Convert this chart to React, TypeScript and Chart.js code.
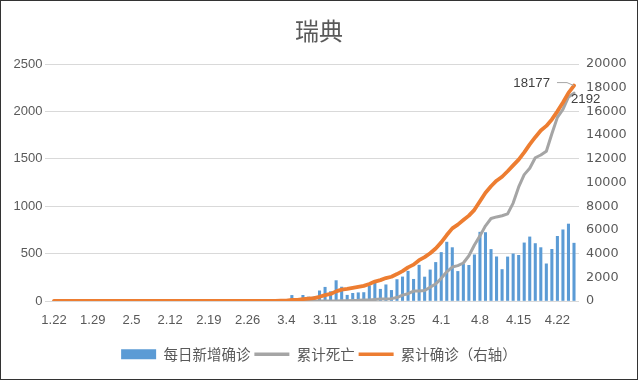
import React, { useEffect, useRef } from 'react';
import { Chart, registerables } from 'chart.js';

Chart.register(...registerables);

const chartTitle = '瑞典';
const seriesNames = ['每日新增确诊', '累计死亡', '累计确诊（右轴）'];

const dates = [
  '1.22', '1.23', '1.24', '1.25', '1.26', '1.27', '1.28', '1.29', '1.30', '1.31',
  '2.1', '2.2', '2.3', '2.4', '2.5', '2.6', '2.7', '2.8', '2.9', '2.10',
  '2.11', '2.12', '2.13', '2.14', '2.15', '2.16', '2.17', '2.18', '2.19', '2.20',
  '2.21', '2.22', '2.23', '2.24', '2.25', '2.26', '2.27', '2.28', '2.29',
  '3.1', '3.2', '3.3', '3.4', '3.5', '3.6', '3.7', '3.8', '3.9', '3.10',
  '3.11', '3.12', '3.13', '3.14', '3.15', '3.16', '3.17', '3.18', '3.19', '3.20',
  '3.21', '3.22', '3.23', '3.24', '3.25', '3.26', '3.27', '3.28', '3.29', '3.30', '3.31',
  '4.1', '4.2', '4.3', '4.4', '4.5', '4.6', '4.7', '4.8', '4.9', '4.10',
  '4.11', '4.12', '4.13', '4.14', '4.15', '4.16', '4.17', '4.18', '4.19', '4.20',
  '4.21', '4.22', '4.23', '4.24', '4.25',
];

const dailyNew = [
  0, 0, 0, 0, 0, 0, 0, 0, 0, 1,
  0, 0, 0, 0, 0, 0, 0, 0, 0, 0,
  0, 0, 0, 0, 0, 0, 0, 0, 0, 0,
  0, 0, 0, 0, 0, 1, 5, 0, 5,
  2, 1, 6, 14, 59, 7, 60, 42, 45, 107,
  145, 99, 215, 147, 61, 81, 87, 89, 160, 200,
  124, 171, 112, 226, 254, 314, 229, 378, 253, 328, 407,
  512, 621, 563, 312, 387, 376, 487, 726, 722, 544,
  466, 332, 465, 497, 482, 613, 676, 606, 563, 392,
  545, 682, 751, 812, 610,
];

const cumDeaths = [
  0, 0, 0, 0, 0, 0, 0, 0, 0, 0,
  0, 0, 0, 0, 0, 0, 0, 0, 0, 0,
  0, 0, 0, 0, 0, 0, 0, 0, 0, 0,
  0, 0, 0, 0, 0, 0, 0, 0, 0,
  0, 0, 0, 0, 0, 0, 0, 0, 0, 0,
  1, 1, 1, 2, 3, 6, 7, 10, 11, 16,
  20, 21, 25, 36, 62, 77, 105, 105, 110, 146, 180,
  239, 308, 358, 373, 401, 477, 591, 687, 793, 870,
  887, 899, 919, 1033, 1203, 1333, 1400, 1511, 1540, 1580,
  1765, 1937, 2021, 2152, 2192,
];

const cumConfirmed = [
  0, 0, 0, 0, 0, 0, 0, 0, 0, 1,
  1, 1, 1, 1, 1, 1, 1, 1, 1, 1,
  1, 1, 1, 1, 1, 1, 1, 1, 1, 1,
  1, 1, 1, 1, 1, 2, 7, 7, 12,
  14, 15, 21, 35, 94, 101, 161, 203, 248, 355,
  500, 599, 814, 961, 1022, 1103, 1190, 1279, 1439, 1639,
  1763, 1934, 2046, 2272, 2526, 2840, 3069, 3447, 3700, 4028, 4435,
  4947, 5568, 6131, 6443, 6830, 7206, 7693, 8419, 9141, 9685,
  10151, 10483, 10948, 11445, 11927, 12540, 13216, 13822, 14385, 14777,
  15322, 16004, 16755, 17567, 18177,
];

const xTickLabels = ['1.22', '1.29', '2.5', '2.12', '2.19', '2.26', '3.4', '3.11', '3.18', '3.25', '4.1', '4.8', '4.15', '4.22'];
const leftAxis = { min: 0, max: 2500, step: 500 };
const rightAxis = { min: 0, max: 20000, step: 2000 };

const COLORS = { bar: '#5b9bd5', deaths: '#a5a5a5', confirmed: '#ed7d31', text: '#595959', grid: '#d9d9d9', label: '#404040' };

const endLabels = {
  id: 'endLabels',
  afterDatasetsDraw(chart: any) {
    const ctx = chart.ctx;
    const mc = chart.getDatasetMeta(2);
    const md = chart.getDatasetMeta(1);
    const pc = mc.data[mc.data.length - 1];
    const pd = md.data[md.data.length - 1];
    if (!pc || !pd) return;
    ctx.save();
    ctx.strokeStyle = '#a6a6a6';
    ctx.lineWidth = 1;
    ctx.beginPath();
    ctx.moveTo(pc.x - 17, pc.y - 3);
    ctx.lineTo(pc.x - 7, pc.y - 3);
    ctx.lineTo(pc.x, pc.y);
    ctx.stroke();
    ctx.font = '13.2px "Liberation Sans"';
    ctx.fillStyle = COLORS.label;
    ctx.textBaseline = 'middle';
    ctx.textAlign = 'right';
    ctx.fillText(String(cumConfirmed[cumConfirmed.length - 1]), pc.x - 24, pc.y - 2);
    ctx.textAlign = 'left';
    ctx.fillText(String(cumDeaths[cumDeaths.length - 1]), pd.x - 3, pd.y + 6);
    ctx.restore();
  },
};

export default function App() {
  const ref = useRef<HTMLCanvasElement | null>(null);

  useEffect(() => {
    if (!ref.current) return;
    const toXY = (arr: number[]) => arr.map((v, i) => ({ x: i, y: v }));
    const tickIdx = xTickLabels.map((l) => dates.indexOf(l));
    const chart = new Chart(ref.current, {
      type: 'bar',
      data: {
        datasets: [
          {
            type: 'bar',
            label: seriesNames[0],
            data: toXY(dailyNew),
            backgroundColor: COLORS.bar,
            barThickness: 2.4,
            yAxisID: 'y',
            order: 3,
          } as any,
          {
            type: 'line',
            label: seriesNames[1],
            data: toXY(cumDeaths),
            borderColor: COLORS.deaths,
            backgroundColor: COLORS.deaths,
            borderWidth: 3,
            pointRadius: 0,
            tension: 0,
            borderJoinStyle: 'round',
            borderCapStyle: 'round',
            yAxisID: 'y',
            order: 2,
          },
          {
            type: 'line',
            label: seriesNames[2],
            data: toXY(cumConfirmed),
            borderColor: COLORS.confirmed,
            backgroundColor: COLORS.confirmed,
            borderWidth: 3.8,
            pointRadius: 0,
            tension: 0,
            borderJoinStyle: 'round',
            borderCapStyle: 'round',
            yAxisID: 'y1',
            order: 1,
          },
        ],
      },
      options: {
        responsive: false,
        animation: false,
        events: [],
        layout: { padding: { left: 0, right: 0, top: 0, bottom: 8.5 } },
        plugins: {
          title: {
            display: true,
            text: chartTitle,
            color: COLORS.text,
            font: { family: '"Noto Sans CJK SC"', size: 24, weight: 'normal', lineHeight: 1.2 },
            padding: { top: 16.6, bottom: 18.6 },
          },
          legend: {
            display: true,
            position: 'bottom',
            labels: {
              usePointStyle: true,
              pointStyleWidth: 35,
              boxHeight: 10,
              padding: 4,
              color: COLORS.text,
              font: { family: '"Noto Sans CJK SC"', size: 14.5 },
              generateLabels: () => [
                { text: seriesNames[0], fillStyle: COLORS.bar, strokeStyle: COLORS.bar, lineWidth: 0, pointStyle: 'rect', datasetIndex: 0, fontColor: COLORS.text },
                { text: seriesNames[1], fillStyle: COLORS.deaths, strokeStyle: COLORS.deaths, lineWidth: 3.5, pointStyle: 'line', datasetIndex: 1, fontColor: COLORS.text },
                { text: seriesNames[2], fillStyle: COLORS.confirmed, strokeStyle: COLORS.confirmed, lineWidth: 3.5, pointStyle: 'line', datasetIndex: 2, fontColor: COLORS.text },
              ] as any,
            },
          },
          tooltip: { enabled: false },
        },
        scales: {
          x: {
            type: 'linear',
            offset: false,
            min: -1.627,
            max: 94.904,
            grid: { display: false, drawTicks: false },
            border: { display: false },
            afterBuildTicks: (scale: any) => {
              scale.ticks = tickIdx.map((v) => ({ value: v }));
            },
            afterFit: (scale: any) => {
              scale.height = 42;
            },
            ticks: {
              autoSkip: false,
              maxRotation: 0,
              padding: 12,
              color: COLORS.text,
              font: { family: '"Liberation Sans"', size: 13 },
              callback: (v: any) => dates[Number(v)] ?? '',
            },
          },
          y: {
            position: 'left',
            min: leftAxis.min,
            max: leftAxis.max,
            grid: { color: COLORS.grid, lineWidth: 1, drawTicks: false },
            border: { display: false },
            afterFit: (scale: any) => {
              scale.width = 45;
            },
            ticks: {
              stepSize: leftAxis.step,
              padding: 2.5,
              color: COLORS.text,
              font: { family: '"Liberation Sans"', size: 13 },
              callback: (v: any) => String(v),
            },
          },
          y1: {
            position: 'right',
            min: rightAxis.min,
            max: rightAxis.max,
            grid: { display: false, drawTicks: false },
            border: { display: false },
            afterFit: (scale: any) => {
              scale.width = 59;
            },
            ticks: {
              stepSize: rightAxis.step,
              padding: 7,
              color: COLORS.text,
              font: { family: '"DejaVu Sans"', size: 12.8 },
              callback: (v: any) => String(v),
            },
          },
        },
      },
      plugins: [endLabels],
    });
    return () => chart.destroy();
  }, []);

  return (
    <div style={{ position: 'fixed', left: 0, top: 0, width: 638, height: 380, background: '#fff' }}>
      <canvas ref={ref} width={638} height={380} style={{ display: 'block', width: 638, height: 380 }} />
      <div
        style={{
          position: 'absolute',
          left: 0,
          top: 0,
          width: 638,
          height: 380,
          boxSizing: 'border-box',
          border: '1px solid #333',
          pointerEvents: 'none',
        }}
      />
    </div>
  );
}
